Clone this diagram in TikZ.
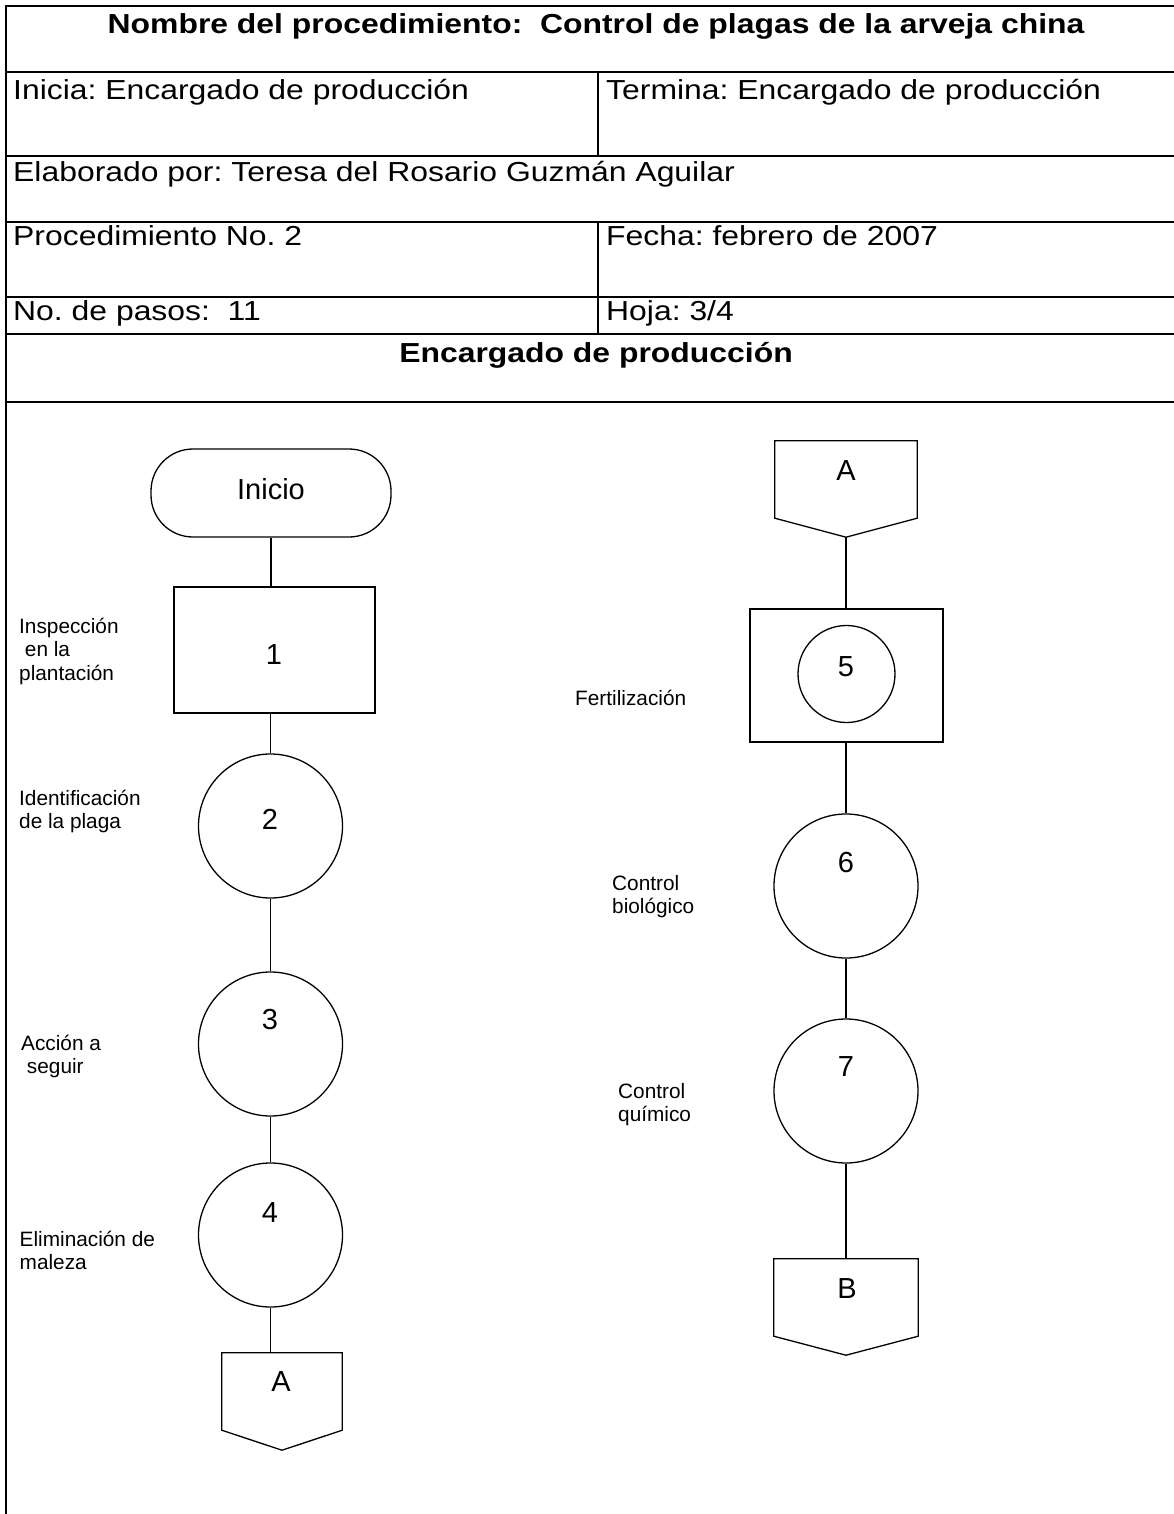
\documentclass[tikz,border=0pt]{standalone}
\usepackage{fontspec}
\setmainfont{Liberation Sans}
\newfontfamily\tabfont[FakeStretch=1.16]{Liberation Sans}
\newcommand{\ftab}{\tabfont\fontsize{27.5}{30}\selectfont\frenchspacing}
\newcommand{\flab}{\fontsize{20.8}{23.7}\selectfont\frenchspacing}
\newcommand{\fnum}{\fontsize{29}{32}\selectfont}
\begin{document}
\begin{tikzpicture}[x=1pt,y=-1pt,
  tline/.style={line width=2pt},
  tdiv/.style={line width=1.5pt},
  flow/.style={line width=1.3pt},
  ttext/.style={anchor=base west,inner sep=0pt,font=\ftab},
  ttitle/.style={anchor=base,inner sep=0pt,font=\ftab\bfseries},
  lab/.style={anchor=base west,inner sep=0pt,font=\flab},
  num/.style={anchor=center,inner sep=0pt,font=\fnum},
  circ/.style={draw,flow,circle,inner sep=0pt,minimum size=144pt},
  boxx/.style={draw,flow,rectangle,inner sep=0pt},
  ghost/.style={rectangle,inner sep=0pt}
]
\useasboundingbox (0,0) rectangle (1174,1514);
\fill[white] (0,0) rectangle (1174,1514);

% ---- header table ----
\foreach \yy in {6,72,156,222,297,334,402}
  \draw[tline] (5,\yy) -- (1180,\yy);
\draw[tline] (6,5) -- (6,1520);
\draw[tdiv] (598,72) -- (598,156);
\draw[tdiv] (598,222) -- (598,334);

\node[ttitle] (title) at (596,34) {Nombre del procedimiento:\ \ Control de plagas de la arveja china};
\node[ttext] (inicia) at (13,100) {Inicia: Encargado de producción};
\node[ttext] (termina) at (606,100) {Termina: Encargado de producción};
\node[ttext] (elab) at (13,182) {Elaborado por: Teresa del Rosario Guzmán Aguilar};
\node[ttext] (proc) at (13,246) {Procedimiento No. 2};
\node[ttext] (fecha) at (606,246) {Fecha: febrero de 2007};
\node[ttext] (pasos) at (13,320) {No. de pasos:\ \ 11};
\node[ttext] (hoja) at (606,320) {Hoja: 3/4};
\node[ttitle] (encarg) at (596,362) {Encargado de producción};

% ---- left column ----
\node[boxx,rounded corners=42pt,minimum width=240pt,minimum height=88pt] (ini) at (271,493) {};
\node[num] (ini-t) at (271,489) {Inicio};

\node[boxx,minimum width=201pt,minimum height=126pt] (b1) at (274.5,650) {};
\node[num] (b1-t) at (274,655) {1};

\node[circ] (c2) at (270.5,826) {};
\node[num] (c2-t) at (270,819) {2};

\node[circ] (c3) at (270.5,1044) {};
\node[num] (c3-t) at (270,1020) {3};

\node[circ] (c4) at (270.5,1235) {};
\node[num] (c4-t) at (270,1213) {4};

\node[ghost,minimum width=120pt,minimum height=77pt] (offA) at (282,1391.5) {};
\draw[flow] (offA.north west) -- (offA.north east) -- (offA.south east)
  -- ([yshift=-20pt]offA.south) -- (offA.south west) -- cycle;
\node[num] (offA-t) at (281,1382) {A};

\draw[flow] (ini.south) -- (ini.south |- b1.north);
\draw[flow] (c2.north |- b1.south) -- (c2.north);
\draw[flow] (c2.south) -- (c3.north);
\draw[flow] (c3.south) -- (c4.north);
\draw[flow] (c4.south) -- (c4.south |- offA.north);

\node[lab] (l1) at (19,633) {\vtop{\hbox{Inspección}\hbox{\ en la}\hbox{plantación}}};
\node[lab] (l2) at (19,805) {\vtop{\hbox{Identificación}\hbox{de la plaga}}};
\node[lab] (l3) at (21,1050) {\vtop{\hbox{Acción a}\hbox{\ seguir}}};
\node[lab] (l4) at (19.5,1246) {\vtop{\hbox{Eliminación de}\hbox{maleza}}};

% ---- right column ----
\node[ghost,minimum width=142pt,minimum height=77pt] (offA2) at (846,479.5) {};
\draw[flow] (offA2.north west) -- (offA2.north east) -- (offA2.south east)
  -- ([yshift=-19pt]offA2.south) -- (offA2.south west) -- cycle;
\coordinate (offA2-tip) at ([yshift=-19pt]offA2.south);
\node[num] (offA2-t) at (846,471) {A};

\node[boxx,minimum width=193pt,minimum height=133pt] (b5) at (846.5,675.5) {};
\node[draw,flow,circle,inner sep=0pt,minimum size=97pt] (c5) at (846.5,674) {};
\node[num] (c5-t) at (846,667) {5};

\node[circ] (c6) at (846,886) {};
\node[num] (c6-t) at (846,863) {6};

\node[circ] (c7) at (846,1091) {};
\node[num] (c7-t) at (846,1067) {7};

\node[ghost,minimum width=144pt,minimum height=77pt] (offB) at (846,1297.5) {};
\draw[flow] (offB.north west) -- (offB.north east) -- (offB.south east)
  -- ([yshift=-19pt]offB.south) -- (offB.south west) -- cycle;
\node[num] (offB-t) at (847,1289) {B};

\draw[flow] (offA2-tip) -- (offA2-tip |- b5.north);
\draw[flow] (c6.north |- b5.south) -- (c6.north);
\draw[flow] (c6.south) -- (c7.north);
\draw[flow] (c7.south) -- (offB.north);

\node[lab] (l5) at (575,705) {Fertilización};
\node[lab] (l6) at (612,890) {\vtop{\hbox{Control}\hbox{biológico}}};
\node[lab] (l7) at (618,1098) {\vtop{\hbox{Control}\hbox{químico}}};
\end{tikzpicture}
\end{document}
